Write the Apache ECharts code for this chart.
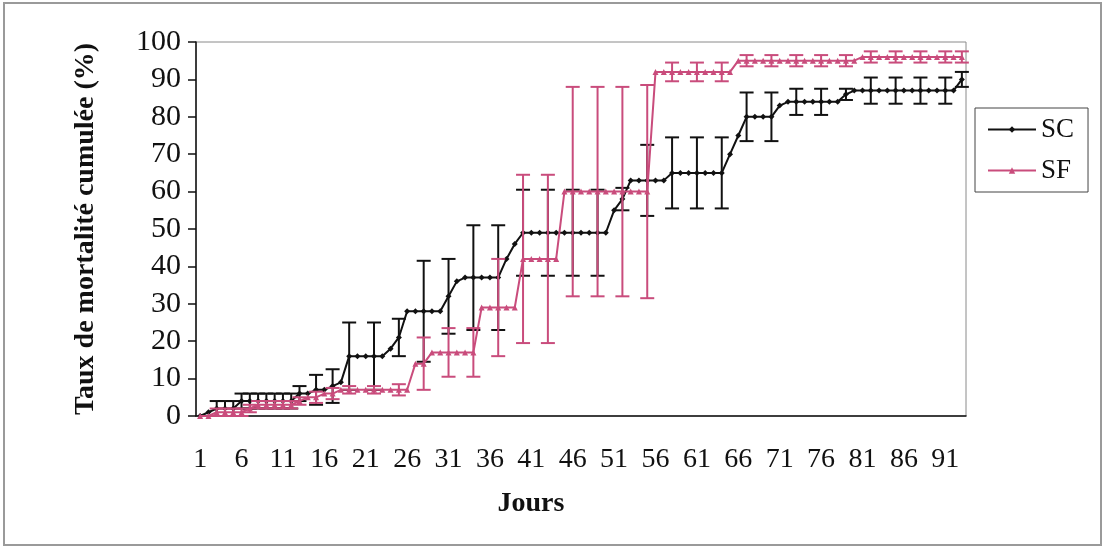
<!DOCTYPE html>
<html>
<head>
<meta charset="utf-8">
<script src="https://cdn.jsdelivr.net/npm/echarts@6/dist/echarts.min.js"></script>
<style>
  html, body { margin: 0; padding: 0; background: #fff; }
  #chart { width: 1105px; height: 548px; }
</style>
</head>
<body>
<div id="chart"></div>
<script>
// jours 1..93 (axe des catégories)
const days = [1, 2, 3, 4, 5, 6, 7, 8, 9, 10, 11, 12, 13, 14, 15, 16, 17, 18, 19, 20,
  21, 22, 23, 24, 25, 26, 27, 28, 29, 30, 31, 32, 33, 34, 35, 36, 37, 38, 39, 40,
  41, 42, 43, 44, 45, 46, 47, 48, 49, 50, 51, 52, 53, 54, 55, 56, 57, 58, 59, 60,
  61, 62, 63, 64, 65, 66, 67, 68, 69, 70, 71, 72, 73, 74, 75, 76, 77, 78, 79, 80,
  81, 82, 83, 84, 85, 86, 87, 88, 89, 90, 91, 92, 93];

// taux de mortalité cumulée (%)
const scValues = [0, 1, 2, 2, 2, 4, 4, 4, 4, 4, 4, 4, 6, 6, 7, 7, 8, 9, 16, 16,
  16, 16, 16, 18, 21, 28, 28, 28, 28, 28, 32, 36, 37, 37, 37, 37, 37, 42, 46, 49,
  49, 49, 49, 49, 49, 49, 49, 49, 49, 49, 55, 58, 63, 63, 63, 63, 63, 65, 65, 65,
  65, 65, 65, 65, 70, 75, 80, 80, 80, 80, 83, 84, 84, 84, 84, 84, 84, 84, 86, 87,
  87, 87, 87, 87, 87, 87, 87, 87, 87, 87, 87, 87, 90];

const sfValues = [0, 0, 1, 1, 1, 1, 2, 3, 3, 3, 3, 3, 4, 5, 5, 6, 6, 7, 7, 7,
  7, 7, 7, 7, 7, 7, 14, 14, 17, 17, 17, 17, 17, 17, 29, 29, 29, 29, 29, 42,
  42, 42, 42, 42, 60, 60, 60, 60, 60, 60, 60, 60, 60, 60, 60, 92, 92, 92, 92, 92,
  92, 92, 92, 92, 92, 95, 95, 95, 95, 95, 95, 95, 95, 95, 95, 95, 95, 95, 95, 95,
  96, 96, 96, 96, 96, 96, 96, 96, 96, 96, 96, 96, 96];

// barres d'erreur (écart-type) aux jours mesurés
const errDays = [3, 4, 5, 6, 7, 8, 9, 10, 11, 12, 13, 15, 17, 19, 22, 25, 28, 31, 34, 37,
  40, 43, 46, 49, 52, 55, 58, 61, 64, 67, 70, 73, 76, 79, 82, 85, 88, 91, 93];
const scErr = [2, 2, 2, 2, 2, 2, 2, 2, 2, 2, 2, 4, 4.5, 9, 9, 5, 13.5, 10, 14, 14,
  11.5, 11.5, 11.5, 11.5, 3, 9.5, 9.5, 9.5, 9.5, 6.5, 6.5, 3.5, 3.5, 1.5, 3.5, 3.5, 3.5, 3.5, 2];
const sfErr = [1, 1, 1, 1, 1, 1, 1, 1, 1, 1, 1, 1.5, 1.5, 1, 1, 1.5, 7, 6.5, 6.5, 13,
  22.5, 22.5, 28, 28, 28, 28.5, 2.5, 2.5, 2.5, 1.5, 1.5, 1.5, 1.5, 1.5, 1.5, 1.5, 1.5, 1.5, 1.5];

const scColor = '#111111';
const sfColor = '#c94c7c';
const serif = 'Liberation Serif';

function errorData(values, errs) {
  return errDays.map((d, i) => [d - 1, values[d - 1] - errs[i], values[d - 1] + errs[i]]);
}

function renderErrorBar(params, api) {
  const idx = api.value(0);
  const hi = api.coord([idx, api.value(2)]);
  const lo = api.coord([idx, api.value(1)]);
  const half = 7;
  const style = { stroke: api.visual('color'), lineWidth: 2, fill: null };
  return {
    type: 'group',
    children: [
      { type: 'line', shape: { x1: hi[0], y1: hi[1], x2: lo[0], y2: lo[1] }, style: style },
      { type: 'line', shape: { x1: hi[0] - half, y1: hi[1], x2: hi[0] + half, y2: hi[1] }, style: style },
      { type: 'line', shape: { x1: lo[0] - half, y1: lo[1], x2: lo[0] + half, y2: lo[1] }, style: style }
    ]
  };
}

const chart = echarts.init(document.getElementById('chart'));

const option = {
  backgroundColor: '#fff',
  animation: false,
  textStyle: { fontFamily: serif },
  graphic: [{
    type: 'rect',
    shape: { x: 4, y: 3, width: 1097, height: 542 },
    style: { fill: null, stroke: '#9a9a9a', lineWidth: 2 },
    z: -1
  }],
  legend: {
    data: ['SC', 'SF'],
    orient: 'vertical',
    left: 975,
    top: 108,
    itemWidth: 48,
    itemHeight: 8,
    itemGap: 14,
    padding: [8, 14, 8, 12],
    borderColor: '#444',
    borderWidth: 1,
    textStyle: { fontSize: 27, fontFamily: serif, color: '#111' }
  },
  grid: {
    left: 196,
    right: 139,
    top: 42,
    bottom: 132,
    show: true,
    borderColor: '#8a8a8a',
    borderWidth: 1
  },
  xAxis: {
    type: 'category',
    data: days.map(String),
    boundaryGap: true,
    name: 'Jours',
    nameLocation: 'middle',
    nameGap: 74,
    nameTextStyle: {
      fontSize: 28, fontWeight: 'bold', fontFamily: serif, color: '#111',
      padding: [0, 100, 0, 0]
    },
    axisLine: { lineStyle: { color: '#111', width: 1.5 } },
    axisTick: { interval: 1, length: 8, lineStyle: { color: '#111', width: 1.5 } },
    axisLabel: { interval: 4, fontSize: 28, fontFamily: serif, color: '#111', margin: 30 },
    splitLine: { show: false }
  },
  yAxis: {
    type: 'value',
    min: 0,
    max: 100,
    interval: 10,
    name: 'Taux de mortalité cumulée (%)',
    nameLocation: 'middle',
    nameGap: 96,
    nameTextStyle: { fontSize: 28, fontWeight: 'bold', fontFamily: serif, color: '#111' },
    axisLine: { show: true, lineStyle: { color: '#111', width: 1.5 } },
    axisTick: { show: true, length: 8, lineStyle: { color: '#111', width: 1.5 } },
    axisLabel: { fontSize: 30, fontFamily: serif, color: '#111', margin: 15 },
    splitLine: { show: false }
  },
  series: [
    {
      name: 'SC',
      type: 'line',
      data: scValues,
      color: scColor,
      symbol: 'diamond',
      symbolSize: 6,
      showAllSymbol: true,
      lineStyle: { width: 2 },
      z: 3
    },
    {
      name: 'SC-err',
      type: 'custom',
      renderItem: renderErrorBar,
      data: errorData(scValues, scErr),
      encode: { x: 0, y: [1, 2] },
      itemStyle: { color: scColor },
      z: 3
    },
    {
      name: 'SF',
      type: 'line',
      data: sfValues,
      color: sfColor,
      symbol: 'triangle',
      symbolSize: 6,
      showAllSymbol: true,
      lineStyle: { width: 2 },
      z: 4
    },
    {
      name: 'SF-err',
      type: 'custom',
      renderItem: renderErrorBar,
      data: errorData(sfValues, sfErr),
      encode: { x: 0, y: [1, 2] },
      itemStyle: { color: sfColor },
      z: 4
    }
  ]
};

chart.setOption(option);
</script>
</body>
</html>
